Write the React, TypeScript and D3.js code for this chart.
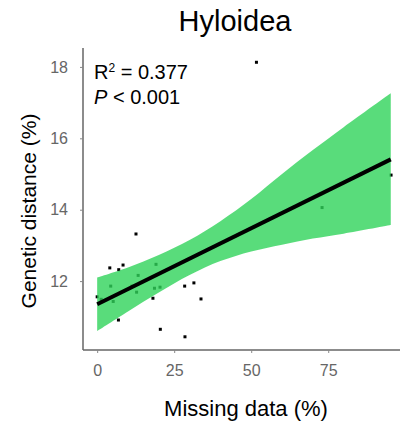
import React, { useEffect, useRef } from "react";
import * as d3 from "d3";

// scatter points: missing data (%) vs genetic distance (%)
const missingData = [51.7, 12.6, 4.1, 7.0, 8.4, 0, 6.9, 18.1, 20.5, 28.5, 28.4, 31.4, 33.7, 95.4, 1.3, 4.4, 5.2, 13.3, 11.3, 12.8, 19.1, 18.6, 20.4, 73.0];
const geneticDistance = [18.13, 13.32, 12.37, 12.32, 12.45, 11.56, 10.91, 11.52, 10.65, 10.44, 11.86, 11.95, 11.5, 14.97, 11.49, 11.86, 11.43, 12.16, 11.86, 11.69, 12.47, 11.8, 11.83, 14.06];

// regression line + confidence band
const fitX = [0, 95.3];
const fitY = [11.35, 15.41];
const bandX = [0, 10, 20, 30, 40, 50, 60, 70, 80, 95.3];
const bandUpper = [12.1, 12.38, 12.73, 13.15, 13.68, 14.3, 15.0, 15.67, 16.31, 17.26];
const bandLower = [10.6, 11.15, 11.68, 12.17, 12.56, 12.83, 13.02, 13.19, 13.33, 13.57];

const xTicks = [0, 25, 50, 75];
const yTicks = [12, 14, 16, 18];

const W = 401;
const H = 424;
const font = "'Liberation Sans', Arial, Helvetica, sans-serif";

const App = () => {
  const ref = useRef<SVGSVGElement>(null);

  useEffect(() => {
    const svg = d3.select(ref.current);
    svg.selectAll("*").remove();

    const left = 83, right = 400, top = 48, bottom = 350;
    const x = d3.scaleLinear().domain([-4.6, 98.3]).range([left, right]);
    const y = d3.scaleLinear().domain([10.07, 18.53]).range([bottom, top]);

    // points
    svg.append("g")
      .selectAll("rect")
      .data(missingData.map((m, i) => [m, geneticDistance[i]]))
      .enter()
      .append("rect")
      .attr("x", d => x(d[0]) - 1.5)
      .attr("y", d => y(d[1]) - 1.5)
      .attr("width", 3)
      .attr("height", 3)
      .attr("fill", "#000");

    // confidence band on top of the points
    const band = d3.area<number>()
      .x((_, i) => x(bandX[i]))
      .y0((_, i) => y(bandLower[i]))
      .y1((_, i) => y(bandUpper[i]))
      .curve(d3.curveCatmullRom);
    svg.append("path")
      .attr("d", band(bandX))
      .attr("fill", "#2fd35a")
      .attr("fill-opacity", 0.8);

    const line = d3.line<number>()
      .x((_, i) => x(fitX[i]))
      .y((_, i) => y(fitY[i]));
    svg.append("path")
      .attr("d", line(fitX))
      .attr("stroke", "#000")
      .attr("stroke-width", 4)
      .attr("fill", "none");

    // axes
    const xAxis = svg.append("g")
      .attr("transform", `translate(0,${bottom})`)
      .call(d3.axisBottom(x).tickValues(xTicks).tickSize(3).tickSizeOuter(0).tickPadding(12));
    const yAxis = svg.append("g")
      .attr("transform", `translate(${left},0)`)
      .call(d3.axisLeft(y).tickValues(yTicks).tickSize(3).tickSizeOuter(0).tickPadding(12));
    [xAxis, yAxis].forEach(a => {
      a.select(".domain").attr("stroke", "#666").attr("stroke-width", 1.5);
      a.selectAll(".tick line").attr("stroke", "#888");
      a.selectAll(".tick text")
        .attr("fill", "#666")
        .style("font-family", font)
        .style("font-size", "16px");
    });
    xAxis.select(".domain").attr("d", `M${left},0H${right}`);
    yAxis.select(".domain").attr("d", `M0,${top}V${bottom}`);

    // title + labels
    svg.append("text")
      .attr("x", 235).attr("y", 31)
      .attr("text-anchor", "middle")
      .style("font-family", font).style("font-size", "29px")
      .text("Hyloidea");
    svg.append("text")
      .attr("x", 246).attr("y", 416)
      .attr("text-anchor", "middle")
      .style("font-family", font).style("font-size", "22px")
      .text("Missing data (%)");
    svg.append("text")
      .attr("transform", "translate(36,211) rotate(-90)")
      .attr("text-anchor", "middle")
      .style("font-family", font).style("font-size", "21px")
      .text("Genetic distance (%)");

    const stats = svg.append("text")
      .style("font-family", font).style("font-size", "20px");
    const r2 = stats.append("tspan").attr("x", 94).attr("y", 79);
    r2.append("tspan").text("R");
    r2.append("tspan").attr("dy", -7).style("font-size", "12px").text("2");
    r2.append("tspan").attr("dy", 7).text(" = 0.377");
    const p = stats.append("tspan").attr("x", 94).attr("y", 104);
    p.append("tspan").style("font-style", "italic").text("P");
    p.append("tspan").text(" < 0.001");
  }, []);

  return (
    <svg ref={ref} width={W} height={H} style={{ position: "absolute", left: 0, top: 0, background: "#fff" }} />
  );
};

export default App;
